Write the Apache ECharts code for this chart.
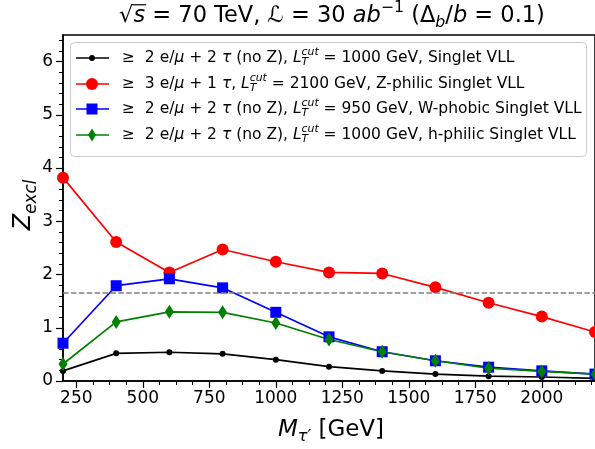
<!DOCTYPE html>
<html><head><meta charset="utf-8">
<script src="https://cdn.jsdelivr.net/npm/echarts@6/dist/echarts.min.js"></script>
<style>html,body{margin:0;padding:0;background:#fff}#c{width:595px;height:449px}</style>
</head><body><div id="c"></div>
<script>
// ---- data ----
const masses = [200, 400, 600, 800, 1000, 1200, 1400, 1600, 1800, 2000, 2200];
const zSinglet = [0.19, 0.52, 0.54, 0.51, 0.40, 0.27, 0.19, 0.13, 0.09, 0.075, 0.05];
const zZphilic = [3.82, 2.61, 2.04, 2.47, 2.24, 2.04, 2.02, 1.76, 1.47, 1.21, 0.92];
const zWphobic = [0.71, 1.79, 1.92, 1.75, 1.29, 0.83, 0.55, 0.38, 0.26, 0.19, 0.13];
const zHphilic = [0.32, 1.11, 1.30, 1.29, 1.09, 0.78, 0.55, 0.38, 0.24, 0.18, 0.13];
const dashLevel = 1.645;
const xTickLabels = [250, 500, 750, 1000, 1250, 1500, 1750, 2000];
const yTickLabels = [0, 1, 2, 3, 4, 5, 6];
const legendRows = [
  {pre: '2 ', mid: ' + 2 ', after: ' (no Z), ', lt: '1000', tail: ' GeV, Singlet VLL'},
  {pre: '3 ', mid: ' + 1 ', after: ', ', lt: '2100', tail: ' GeV, Z-philic Singlet VLL'},
  {pre: '2 ', mid: ' + 2 ', after: ' (no Z), ', lt: '950', tail: ' GeV, W-phobic Singlet VLL'},
  {pre: '2 ', mid: ' + 2 ', after: ' (no Z), ', lt: '1000', tail: ' GeV, h-philic Singlet VLL'}
];

// ---- helpers ----
const FAM = '"DejaVu Sans"';
const cv = document.createElement('canvas').getContext('2d');
function fnt(size, it) { return (it ? 'italic ' : '') + size + 'px ' + FAM; }
function meas(t, size, it) { cv.font = fnt(size, it); return cv.measureText(t).width; }
function buildText(segs, size, x0, y, align) {
  const ss = size * 0.7;
  let w = 0;
  const parts = segs.map(s => {
    let pw;
    if (s.t !== undefined) pw = meas(s.t, size, s.it);
    else pw = Math.max(s.sub ? meas(s.sub, ss, s.it) : 0, s.sup ? meas(s.sup, ss, s.it) : 0);
    const p = {s, x: w, w: pw};
    w += pw;
    return p;
  });
  let start = x0;
  if (align === 'center') start = x0 - w / 2;
  const els = [];
  parts.forEach(p => {
    const s = p.s;
    const x = start + p.x;
    if (s.t !== undefined) {
      els.push({type: 'text', x: x, y: y, z: 100, style: {text: s.t, font: fnt(size, s.it), fill: '#000', align: 'left', verticalAlign: 'middle'}});
      if (s.over) {
        els.push({type: 'line', z: 100, shape: {x1: x - 1, y1: y - size * 0.5, x2: x + p.w + 1, y2: y - size * 0.5}, style: {stroke: '#000', lineWidth: 1.2}});
      }
    } else {
      if (s.sub) els.push({type: 'text', x: x, y: y + size * 0.3, z: 100, style: {text: s.sub, font: fnt(ss, s.it), fill: '#000', align: 'left', verticalAlign: 'middle'}});
      if (s.sup) els.push({type: 'text', x: x, y: y - size * 0.38, z: 100, style: {text: s.sup, font: fnt(ss, s.it), fill: '#000', align: 'left', verticalAlign: 'middle'}});
    }
  });
  return {els, w};
}

const chart = echarts.init(document.getElementById('c'), null, {renderer: 'canvas'});

const xMinor = [];
for (let v = 250; v < 2200; v += 62.5) if (v % 250 !== 0) xMinor.push(v);
const yMinor = [];
for (let i = 1; i <= 32; i++) if (i % 5 !== 0) yMinor.push(+(i * 0.2).toFixed(1));

const colors = ['#000000', '#ff0000', '#0000ff', '#008000'];
const thinDiamond = 'path://M0,-10 L6,0 L0,10 L-6,0 Z';

const graphics = [];
// title
const title = buildText([
  {t: '\u221A'}, {t: 's', it: true, over: true}, {t: ' = 70 TeV, '}, {t: '\u2112'}, {t: ' = 30 '},
  {t: 'ab', it: true}, {sup: '\u22121'}, {t: ' (\u0394'}, {sub: 'b', it: true}, {t: '/'}, {t: 'b', it: true}, {t: ' = 0.1)'}
], 22.5, 332, 16, 'center');
graphics.push(...title.els);

// x axis name
graphics.push(...buildText([{t: 'M', it: true}, {sub: '\u03C4\u2032', it: true}, {t: ' [GeV]'}], 23, 331, 430, 'center').els);
// y axis name (rotated)
const yn = buildText([{t: 'Z', it: true}, {sub: 'excl', it: true}], 24, 0, 0, 'center');
graphics.push({type: 'group', x: 24, y: 205, rotation: Math.PI / 2, z: 100, children: yn.els});

// legend box
graphics.push({type: 'rect', z: 90, shape: {x: 70.5, y: 42.5, width: 516, height: 114, r: 4},
  style: {fill: 'rgba(255,255,255,0.8)', stroke: '#cccccc', lineWidth: 1}});
const rowY = [58, 84, 109, 135];
const sym = [
  {type: 'circle', r: 3},
  {type: 'circle', r: 6},
  {type: 'rect', r: 5.5},
  {type: 'diamond', r: 6.5}
];
legendRows.forEach((row, i) => {
  const y = rowY[i];
  graphics.push({type: 'line', z: 95, shape: {x1: 76, y1: y, x2: 109, y2: y}, style: {stroke: colors[i], lineWidth: 1.7}});
  const s = sym[i];
  if (s.type === 'circle') graphics.push({type: 'circle', z: 96, shape: {cx: 92, cy: y, r: s.r}, style: {fill: colors[i]}});
  else if (s.type === 'rect') graphics.push({type: 'rect', z: 96, shape: {x: 92 - s.r, y: y - s.r, width: 2 * s.r, height: 2 * s.r}, style: {fill: colors[i]}});
  else graphics.push({type: 'polygon', z: 96, shape: {points: [[92, y - s.r], [96, y], [92, y + s.r], [88, y]]}, style: {fill: colors[i]}});
  const t = buildText([
    {t: '\u2265  ' + row.pre + 'e/'}, {t: '\u03BC', it: true}, {t: row.mid}, {t: '\u03C4', it: true}, {t: row.after},
    {t: 'L', it: true}, {sub: 'T', sup: 'cut', it: true}, {t: ' = ' + row.lt + row.tail}
  ], 15.5, 122, y, 'left');
  graphics.push(...t.els);
});

function mk(arr) { return masses.map((m, i) => [m, arr[i]]); }
const baseLabel = {fontFamily: 'DejaVu Sans', fontSize: 17, color: '#000', formatter: v => String(v)};

const option = {
  animation: false,
  backgroundColor: '#fff',
  grid: {left: 63, right: -2, top: 35, bottom: 68, show: true, borderColor: '#000', borderWidth: 1.5, backgroundColor: 'transparent'},
  xAxis: [
    {type: 'value', position: 'bottom', min: 200, max: 2200,
      axisLine: {show: true, lineStyle: {color: '#000', width: 1.5}},
      axisTick: {show: true, customValues: xTickLabels, length: 7, lineStyle: {color: '#000', width: 1.2}},
      axisLabel: Object.assign({customValues: xTickLabels, margin: 9}, baseLabel),
      splitLine: {show: false}},
    {type: 'value', position: 'bottom', min: 200, max: 2200,
      axisLine: {show: false},
      axisTick: {show: true, customValues: xMinor, length: 4, lineStyle: {color: '#000', width: 1}},
      axisLabel: {show: false}, splitLine: {show: false}}
  ],
  yAxis: [
    {type: 'value', position: 'left', min: 0, max: 6.5,
      axisLine: {show: true, lineStyle: {color: '#000', width: 1.5}},
      axisTick: {show: true, customValues: yTickLabels, length: 7, lineStyle: {color: '#000', width: 1.2}},
      axisLabel: Object.assign({customValues: yTickLabels, margin: 10}, baseLabel),
      splitLine: {show: false}},
    {type: 'value', position: 'left', min: 0, max: 6.5,
      axisLine: {show: false},
      axisTick: {show: true, customValues: yMinor, length: 4, lineStyle: {color: '#000', width: 1}},
      axisLabel: {show: false}, splitLine: {show: false}}
  ],
  series: [
    {type: 'line', data: mk(zSinglet), symbol: 'circle', symbolSize: 6, color: colors[0],
      lineStyle: {width: 1.7, color: colors[0]}, itemStyle: {color: colors[0]}},
    {type: 'line', data: mk(zZphilic), symbol: 'circle', symbolSize: 12, color: colors[1],
      lineStyle: {width: 1.7, color: colors[1]}, itemStyle: {color: colors[1]}},
    {type: 'line', data: mk(zWphobic), symbol: 'rect', symbolSize: 11, color: colors[2],
      lineStyle: {width: 1.7, color: colors[2]}, itemStyle: {color: colors[2]}},
    {type: 'line', data: mk(zHphilic), symbol: thinDiamond, symbolSize: [9, 14], color: colors[3],
      lineStyle: {width: 1.7, color: colors[3]}, itemStyle: {color: colors[3]},
      markLine: {silent: true, symbol: 'none', label: {show: false},
        lineStyle: {color: '#808080', type: [5.5, 2.4], width: 1.5},
        data: [{yAxis: dashLevel}]}}
  ],
  graphic: graphics
};
chart.setOption(option);
</script></body></html>
